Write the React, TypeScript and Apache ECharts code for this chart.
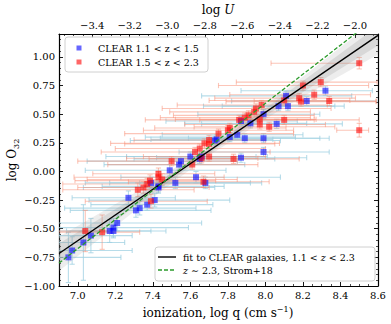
import React, { useEffect, useRef } from "react";
import * as echarts from "echarts";

const LOG_C = 10.477;
const X_MIN = 6.9;
const X_MAX = 8.6;
const Y_MIN = -1.0;
const Y_MAX = 1.2;

// [log q, log O32, x err low, x err high, y err]
const clearLowZ = [
  [6.95, -0.75, 0.05, 0.28, 0.22],
  [6.97, -0.69, 0.07, 0.32, 0.12],
  [7.03, -0.62, 0.13, 0.22, 0.33],
  [7.07, -0.56, 0.17, 0.22, 0.15],
  [7.17, -0.52, 0.3, 0.3, 0.1],
  [7.19, -0.49, 0.35, 0.4, 0.08],
  [7.19, -0.52, 0.25, 0.2, 0.06],
  [7.21, -0.45, 0.35, 0.45, 0.07],
  [7.27, -0.23, 0.3, 0.25, 0.06],
  [7.31, -0.34, 0.35, 0.4, 0.06],
  [7.33, -0.32, 0.4, 0.3, 0.06],
  [7.37, -0.29, 0.3, 0.35, 0.05],
  [7.41, -0.25, 0.35, 0.4, 0.06],
  [7.43, -0.14, 0.4, 0.3, 0.05],
  [7.39, -0.1, 0.35, 0.3, 0.05],
  [7.43, -0.13, 0.3, 0.35, 0.05],
  [7.49, 0.01, 0.45, 0.3, 0.05],
  [7.52, -0.1, 0.35, 0.4, 0.05],
  [7.54, 0.06, 0.4, 0.35, 0.04],
  [7.55, 0.09, 0.5, 0.3, 0.04],
  [7.6, 0.13, 0.45, 0.35, 0.04],
  [7.63, -0.05, 0.4, 0.45, 0.05],
  [7.65, 0.11, 0.35, 0.4, 0.04],
  [7.68, -0.1, 0.35, 0.3, 0.05],
  [7.66, 0.13, 0.4, 0.35, 0.04],
  [7.73, 0.27, 0.45, 0.35, 0.04],
  [7.74, 0.28, 0.35, 0.3, 0.04],
  [7.81, 0.3, 0.45, 0.35, 0.04],
  [7.85, 0.32, 0.4, 0.35, 0.04],
  [7.87, 0.44, 0.4, 0.3, 0.04],
  [7.87, 0.12, 0.45, 0.35, 0.04],
  [7.89, 0.29, 0.45, 0.4, 0.04],
  [7.92, 0.42, 0.35, 0.3, 0.04],
  [7.99, 0.29, 0.4, 0.35, 0.04],
  [7.99, 0.17, 0.45, 0.35, 0.04],
  [7.99, 0.5, 0.35, 0.3, 0.04],
  [8.06, 0.415, 0.4, 0.35, 0.04],
  [8.07, 0.57, 0.4, 0.3, 0.04],
  [8.11, 0.66, 0.45, 0.35, 0.04],
  [8.12, 0.57, 0.35, 0.3, 0.04],
  [8.22, 0.615, 0.4, 0.4, 0.04],
  [8.32, 0.705, 0.45, 0.25, 0.04],
];

const clearHighZ = [
  [7.04, -0.52, 0.15, 0.12, 0.18],
  [7.13, -0.53, 0.25, 0.2, 0.15],
  [7.32, -0.16, 0.4, 0.3, 0.06],
  [7.35, -0.14, 0.35, 0.35, 0.05],
  [7.37, -0.11, 0.45, 0.3, 0.05],
  [7.385, -0.08, 0.4, 0.35, 0.05],
  [7.39, -0.26, 0.35, 0.3, 0.06],
  [7.43, -0.05, 0.45, 0.35, 0.05],
  [7.43, -0.02, 0.35, 0.3, 0.05],
  [7.45, -0.07, 0.4, 0.4, 0.05],
  [7.5, 0.09, 0.5, 0.35, 0.04],
  [7.61, 0.06, 0.45, 0.35, 0.04],
  [7.625, 0.17, 0.5, 0.4, 0.04],
  [7.65, 0.2, 0.45, 0.35, 0.04],
  [7.66, 0.115, 0.4, 0.3, 0.04],
  [7.67, -0.09, 0.4, 0.35, 0.05],
  [7.675, 0.245, 0.5, 0.4, 0.04],
  [7.7, 0.24, 0.45, 0.35, 0.04],
  [7.7, 0.275, 0.4, 0.3, 0.04],
  [7.7, 0.13, 0.35, 0.3, 0.04],
  [7.75, 0.33, 0.5, 0.4, 0.04],
  [7.8, 0.36, 0.45, 0.35, 0.04],
  [7.81, 0.38, 0.4, 0.3, 0.04],
  [7.83, 0.11, 0.45, 0.35, 0.04],
  [7.86, 0.45, 0.5, 0.4, 0.04],
  [7.89, 0.47, 0.45, 0.35, 0.04],
  [7.91, 0.49, 0.4, 0.35, 0.04],
  [7.94, 0.52, 0.45, 0.3, 0.04],
  [7.95, 0.55, 0.5, 0.4, 0.04],
  [7.97, 0.41, 0.4, 0.35, 0.04],
  [7.97, 0.455, 0.45, 0.3, 0.04],
  [7.98, 0.58, 0.45, 0.35, 0.04],
  [8.02, 0.39, 0.4, 0.35, 0.04],
  [8.1, 0.45, 0.45, 0.4, 0.04],
  [8.1, 0.62, 0.4, 0.35, 0.04],
  [8.18, 0.64, 0.45, 0.3, 0.04],
  [8.19, 0.61, 0.4, 0.4, 0.04],
  [8.2, 0.75, 0.45, 0.35, 0.04],
  [8.26, 0.67, 0.45, 0.3, 0.04],
  [8.295, 0.78, 0.45, 0.3, 0.04],
  [8.34, 0.615, 0.4, 0.25, 0.04],
  [8.5, 0.945, 0.47, 0.0, 0.05],
  [8.5, 0.36, 0.12, 0.05, 0.06],
];

// best fit and Strom+18 relation (end points)
const fitX = [6.9, 8.6];
const fitY = [-0.716, 1.188];
const stromX = [6.9, 8.6];
const stromY = [-0.8, 1.356];

// bootstrap uncertainty band of the fit
const bandX = [6.9, 7.3, 7.7, 8.1, 8.6];
const outerLo = [-0.87, -0.35, 0.14, 0.56, 1.02];
const outerHi = [-0.57, -0.19, 0.22, 0.7, 1.34];
const innerLo = [-0.8, -0.31, 0.16, 0.59, 1.1];
const innerHi = [-0.63, -0.23, 0.2, 0.67, 1.27];

const FONT = "DejaVu Serif";

const fmtMinus = (v: number, d: number) =>
  (v < -1e-9 ? "\u2212" : "") + Math.abs(v).toFixed(d);

function errorBars(data: number[][], color: string, opacity: number) {
  return {
    type: "custom",
    data,
    clip: true,
    silent: true,
    z: 1,
    encode: { x: 0, y: 1 },
    renderItem: (_p: any, api: any) => {
      const x = api.value(0);
      const y = api.value(1);
      const xlo = api.value(2);
      const xhi = api.value(3);
      const ye = api.value(4);
      const l = api.coord([x - xlo, y]);
      const r = api.coord([x + xhi, y]);
      const b = api.coord([x, y - ye]);
      const t = api.coord([x, y + ye]);
      const c = 2.6;
      const style = { stroke: color, lineWidth: 1.1, opacity };
      const ln = (x1: number, y1: number, x2: number, y2: number) => ({
        type: "line",
        shape: { x1, y1, x2, y2 },
        style,
      });
      return {
        type: "group",
        children: [
          ln(l[0], l[1], r[0], r[1]),
          ln(l[0], l[1] - c, l[0], l[1] + c),
          ln(r[0], r[1] - c, r[0], r[1] + c),
          ln(b[0], b[1], t[0], t[1]),
          ln(b[0] - c, b[1], b[0] + c, b[1]),
          ln(t[0] - c, t[1], t[0] + c, t[1]),
        ],
      };
    },
  };
}

function bandPolygon(api: any, lo: number[], hi: number[]) {
  const pts: number[][] = [];
  for (let i = 0; i < bandX.length; i++) pts.push(api.coord([bandX[i], lo[i]]));
  for (let i = bandX.length - 1; i >= 0; i--) pts.push(api.coord([bandX[i], hi[i]]));
  return pts;
}

export default function App() {
  const ref = useRef<HTMLDivElement>(null);
  useEffect(() => {
    const chart = echarts.init(ref.current!, null, { renderer: "svg" });
    const tickStyle = { inside: true, length: 4, lineStyle: { color: "#000", width: 0.9 } };
    const minorStyle = (n: number) => ({
      show: true,
      splitNumber: n,
      length: 2,
      lineStyle: { color: "#000", width: 0.7 },
    });
    const axisLine = { show: true, onZero: false, lineStyle: { color: "#000", width: 1.2 } };
    const labelBase = { color: "#000", fontFamily: FONT, fontSize: 10 };

    const option: any = {
      animation: false,
      backgroundColor: "#fff",
      grid: { left: 59, right: 13, top: 34, bottom: 38 },
      xAxis: [
        {
          type: "value",
          position: "bottom",
          min: X_MIN,
          max: X_MAX,
          splitNumber: 8,
          axisLine,
          axisTick: tickStyle,
          minorTick: minorStyle(4),
          splitLine: { show: false },
          axisLabel: {
            ...labelBase,
            margin: 4,
            showMinLabel: false,
            formatter: (v: number) => fmtMinus(v, 1),
          },
        },
        {
          type: "value",
          position: "top",
          min: X_MIN - LOG_C,
          max: X_MAX - LOG_C,
          splitNumber: 8,
          axisLine,
          axisTick: tickStyle,
          minorTick: minorStyle(4),
          splitLine: { show: false },
          axisLabel: {
            ...labelBase,
            margin: 4,
            showMinLabel: false,
            showMaxLabel: false,
            formatter: (v: number) => fmtMinus(v, 1),
          },
        },
      ],
      yAxis: [
        {
          type: "value",
          position: "left",
          min: Y_MIN,
          max: Y_MAX,
          interval: 0.25,
          axisLine,
          axisTick: tickStyle,
          minorTick: minorStyle(5),
          splitLine: { show: false },
          axisLabel: {
            ...labelBase,
            margin: 4,
            showMaxLabel: false,
            formatter: (v: number) => fmtMinus(v, 2),
          },
        },
        {
          type: "value",
          position: "right",
          min: Y_MIN,
          max: Y_MAX,
          interval: 0.25,
          axisLine,
          axisTick: tickStyle,
          minorTick: minorStyle(5),
          splitLine: { show: false },
          axisLabel: { show: false },
        },
      ],
      series: [
        errorBars(clearLowZ, "#9fd0e2", 0.75),
        errorBars(clearHighZ, "#fa8c72", 0.5),
        {
          type: "custom",
          data: [[X_MIN, Y_MIN]],
          clip: true,
          silent: true,
          z: 2,
          encode: { x: 0, y: 1 },
          renderItem: (_p: any, api: any) => ({
            type: "group",
            children: [
              {
                type: "polygon",
                shape: { points: bandPolygon(api, outerLo, outerHi) },
                style: { fill: "#999", opacity: 0.18 },
              },
              {
                type: "polygon",
                shape: { points: bandPolygon(api, innerLo, innerHi) },
                style: { fill: "#888", opacity: 0.2 },
              },
            ],
          }),
        },
        {
          type: "scatter",
          data: clearLowZ.map((d) => [d[0], d[1]]),
          symbol: "rect",
          symbolSize: 6,
          z: 3,
          itemStyle: { color: "#0000ff", opacity: 0.6 },
        },
        {
          type: "scatter",
          data: clearHighZ.map((d) => [d[0], d[1]]),
          symbol: "rect",
          symbolSize: 6,
          z: 3,
          itemStyle: { color: "#ff0000", opacity: 0.6 },
        },
        {
          type: "line",
          data: fitX.map((x, i) => [x, fitY[i]]),
          showSymbol: false,
          symbol: "none",
          z: 4,
          lineStyle: { color: "#000", width: 1.4 },
        },
        {
          type: "line",
          data: stromX.map((x, i) => [x, stromY[i]]),
          showSymbol: false,
          symbol: "none",
          z: 4,
          lineStyle: { color: "#2a9a2a", width: 1.3, type: [4, 2] },
        },
      ],
      graphic: [
        // axis titles
        {
          type: "text",
          x: 218,
          y: 313,
          style: {
            text: "ionization, log q (cm s{sup|\u22121})",
            fill: "#000",
            fontFamily: FONT,
            fontSize: 12,
            lineHeight: 16,
            align: "center",
            verticalAlign: "middle",
            rich: {
              sup: { fontFamily: FONT, fontSize: 8, lineHeight: 9, verticalAlign: "top", fill: "#000" },
            },
          },
        },
        {
          type: "text",
          x: 218,
          y: 10,
          style: {
            text: "log {i|U}",
            fill: "#000",
            fontFamily: FONT,
            fontSize: 12,
            align: "center",
            verticalAlign: "middle",
            rich: { i: { fontFamily: FONT, fontSize: 12, fontStyle: "italic", fill: "#000" } },
          },
        },
        {
          type: "text",
          x: 12,
          y: 160,
          rotation: Math.PI / 2,
          style: {
            text: "log O{sub|32}",
            fill: "#000",
            fontFamily: FONT,
            fontSize: 12,
            lineHeight: 16,
            align: "center",
            verticalAlign: "middle",
            rich: {
              sub: { fontFamily: FONT, fontSize: 8, lineHeight: 9, verticalAlign: "bottom", fill: "#000" },
            },
          },
        },
        // legend 1
        {
          type: "rect",
          shape: { x: 65, y: 37, width: 143, height: 35, r: 3 },
          style: { fill: "rgba(255,255,255,0.8)", stroke: "#d0d0d0", lineWidth: 1 },
          z: 10,
        },
        {
          type: "rect",
          shape: { x: 76.5, y: 45.5, width: 5, height: 5 },
          style: { fill: "#0000ff", opacity: 0.6 },
          z: 11,
        },
        {
          type: "rect",
          shape: { x: 76.5, y: 59.5, width: 5, height: 5 },
          style: { fill: "#ff0000", opacity: 0.6 },
          z: 11,
        },
        {
          type: "text",
          x: 98,
          y: 48,
          z: 11,
          style: {
            text: "CLEAR 1.1 < z < 1.5",
            fill: "#000",
            fontFamily: FONT,
            fontSize: 9.5,
            align: "left",
            verticalAlign: "middle",
          },
        },
        {
          type: "text",
          x: 98,
          y: 62,
          z: 11,
          style: {
            text: "CLEAR 1.5 < z < 2.3",
            fill: "#000",
            fontFamily: FONT,
            fontSize: 9.5,
            align: "left",
            verticalAlign: "middle",
          },
        },
        // legend 2
        {
          type: "rect",
          shape: { x: 155, y: 247, width: 220, height: 34, r: 3 },
          style: { fill: "rgba(255,255,255,0.8)", stroke: "#d0d0d0", lineWidth: 1 },
          z: 10,
        },
        {
          type: "line",
          shape: { x1: 158, y1: 257, x2: 176, y2: 257 },
          style: { stroke: "#000", lineWidth: 1.4 },
          z: 11,
        },
        {
          type: "line",
          shape: { x1: 158, y1: 270, x2: 176, y2: 270 },
          style: { stroke: "#2a9a2a", lineWidth: 1.3, lineDash: [4, 2] },
          z: 11,
        },
        {
          type: "text",
          x: 183,
          y: 257,
          z: 11,
          style: {
            text: "fit to CLEAR galaxies, 1.1 < {i|z} < 2.3",
            fill: "#000",
            fontFamily: FONT,
            fontSize: 9.5,
            align: "left",
            verticalAlign: "middle",
            rich: { i: { fontFamily: FONT, fontSize: 9.5, fontStyle: "italic", fill: "#000" } },
          },
        },
        {
          type: "text",
          x: 183,
          y: 270,
          z: 11,
          style: {
            text: "{i|z} \u223c 2.3, Strom+18",
            fill: "#000",
            fontFamily: FONT,
            fontSize: 9.5,
            align: "left",
            verticalAlign: "middle",
            rich: { i: { fontFamily: FONT, fontSize: 9.5, fontStyle: "italic", fill: "#000" } },
          },
        },
      ],
    };
    chart.setOption(option);
    return () => chart.dispose();
  }, []);
  return (
    <div
      ref={ref}
      style={{ position: "fixed", left: 0, top: 0, width: 391, height: 324, background: "#fff" }}
    />
  );
}
